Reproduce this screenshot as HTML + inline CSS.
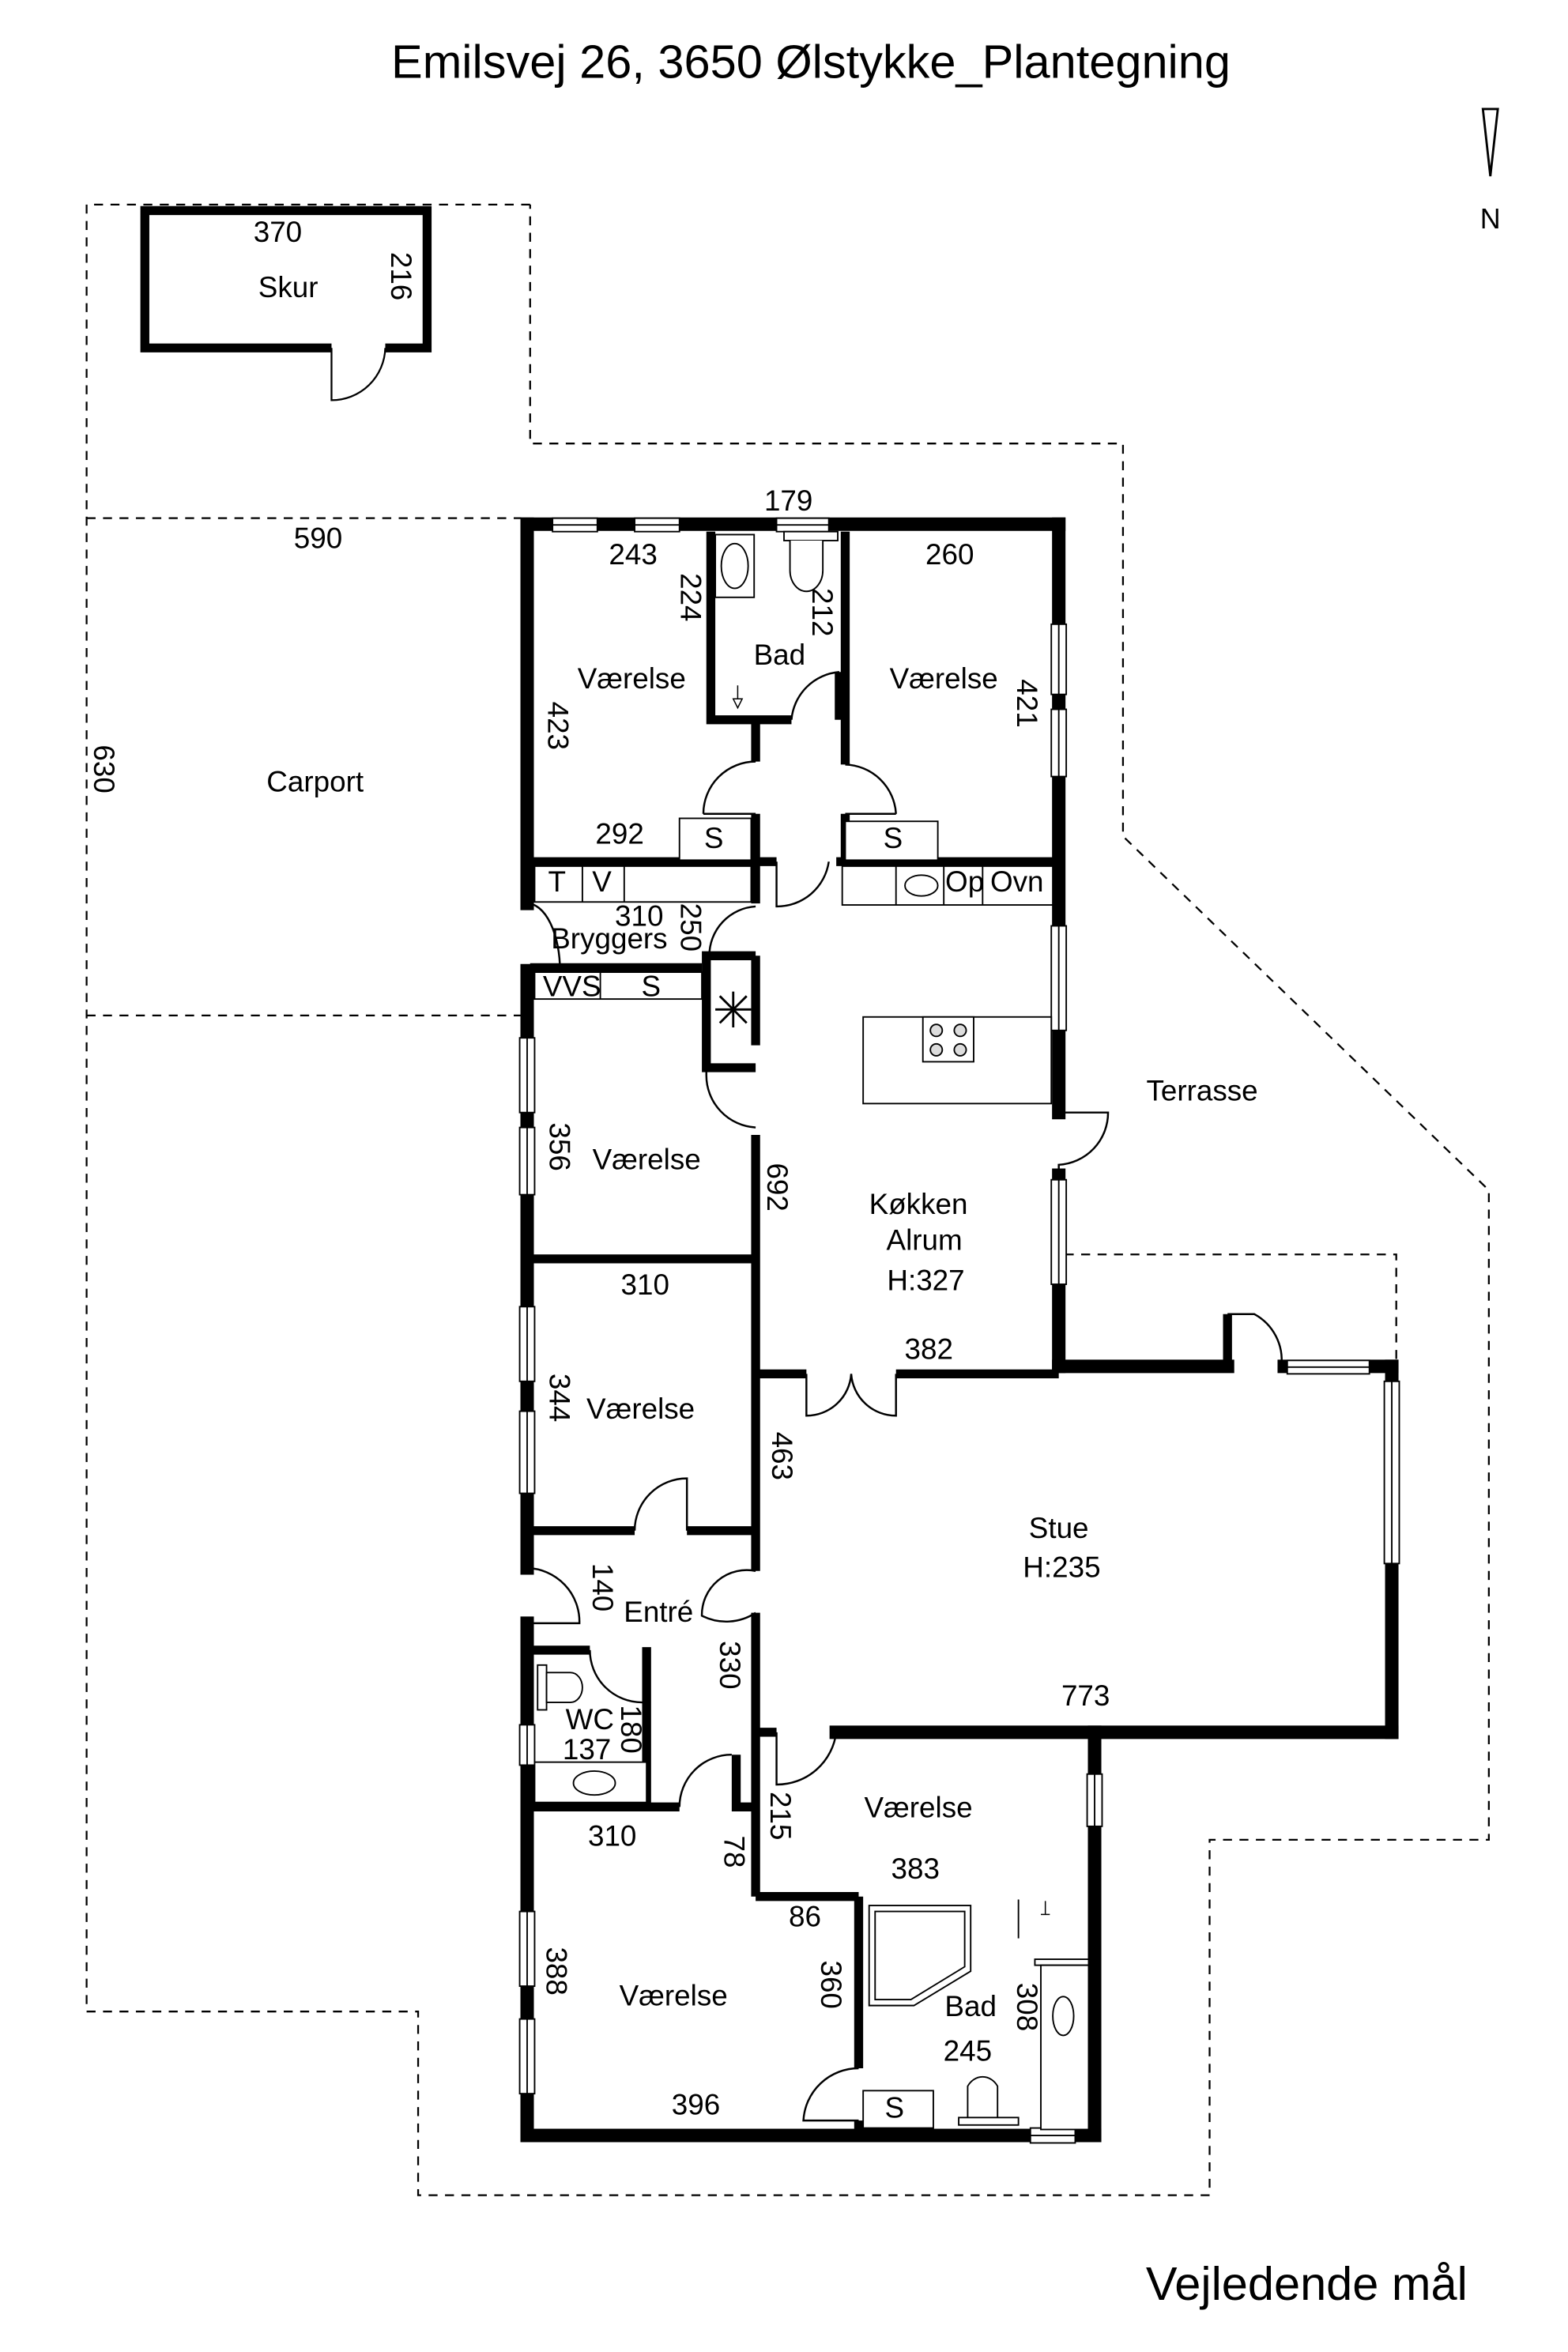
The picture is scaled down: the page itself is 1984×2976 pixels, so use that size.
<!DOCTYPE html>
<html><head><meta charset="utf-8"><style>
html,body{margin:0;padding:0;background:#fff}
svg{display:block}
text{font-family:"Liberation Sans",sans-serif;fill:#000}
</style></head><body>
<svg width="1984" height="2976" viewBox="0 0 1050 1575" xmlns="http://www.w3.org/2000/svg">
<rect width="1050" height="1575" fill="#fff"/>
<text x="543" y="52" font-size="31.5" text-anchor="middle">Emilsvej 26, 3650 Ølstykke_Plantegning</text>
<text x="875" y="1540" font-size="31.5" text-anchor="middle">Vejledende mål</text>
<!-- north -->
<polygon points="993,73 1003,73 998,118" fill="#fff" stroke="#000" stroke-width="1.5"/>
<text x="998" y="153" font-size="19" text-anchor="middle">N</text>
<!-- dashed -->
<g fill="none" stroke="#000" stroke-width="1.2" stroke-dasharray="6,5">
<polyline points="355,137 58,137 58,1347 280,1347 280,1470 810,1470 810,1232 997,1232 997,797 752,560 752,297 355,297 355,137"/>
<line x1="58" y1="347" x2="349" y2="347"/>
<line x1="58" y1="680" x2="349" y2="680"/>
<polyline points="713,840 935,840 935,910"/>
</g>
<!-- shed -->
<g fill="none" stroke="#000" stroke-width="6">
<polyline points="222,233 97,233 97,141 286,141 286,233 258,233"/>
</g>
<path d="M222,233 L222,268 A36,36 0 0 0 258,233" fill="none" stroke="#000" stroke-width="1.2"/>
<text x="186" y="162" font-size="19.5" text-anchor="middle">370</text>
<text x="193" y="199" font-size="19.5" text-anchor="middle">Skur</text>
<text x="262" y="185" font-size="19.5" text-anchor="middle" transform="rotate(90 262 185)">216</text>
<text x="213" y="367" font-size="19.5" text-anchor="middle">590</text>
<text x="211" y="530" font-size="19.5" text-anchor="middle">Carport</text>
<text x="63" y="515" font-size="19.5" text-anchor="middle" transform="rotate(90 63 515)">630</text>
<text x="805" y="737" font-size="19.5" text-anchor="middle">Terrasse</text>

<!-- outer walls -->
<g stroke="#000" stroke-width="9" fill="none" stroke-linecap="square">
<line x1="353" y1="351" x2="709" y2="351"/>
<line x1="353" y1="351" x2="353" y2="605"/>
<line x1="353" y1="650" x2="353" y2="1050"/>
<line x1="353" y1="1087" x2="353" y2="1430"/>
<line x1="353" y1="1430" x2="733" y2="1430"/>
<line x1="733" y1="1160" x2="733" y2="1430"/>
<line x1="709" y1="351" x2="709" y2="745"/>
<line x1="709" y1="787" x2="709" y2="915"/>
<line x1="709" y1="915" x2="822" y2="915"/>
<line x1="860" y1="915" x2="932" y2="915"/>
<line x1="932" y1="915" x2="932" y2="1160"/>
<line x1="560" y1="1160" x2="932" y2="1160"/>
</g>
<!-- windows -->
<g fill="#fff" stroke="#000" stroke-width="1">
<rect x="370" y="347" width="30" height="9"/><rect x="425" y="347" width="30" height="9"/><rect x="520" y="347" width="35" height="9"/>
<rect x="704" y="418" width="10" height="47"/><rect x="704" y="475" width="10" height="45"/><rect x="704" y="620" width="10" height="70"/><rect x="704" y="790" width="10" height="70"/>
<rect x="348" y="695" width="10" height="50"/><rect x="348" y="755" width="10" height="45"/><rect x="348" y="875" width="10" height="50"/><rect x="348" y="945" width="10" height="55"/>
<rect x="348" y="1155" width="10" height="27"/><rect x="348" y="1280" width="10" height="50"/><rect x="348" y="1352" width="10" height="50"/>
<rect x="862" y="911" width="55" height="9"/><rect x="927" y="925" width="10" height="122"/>
<rect x="728" y="1188" width="10" height="35"/><rect x="690" y="1425" width="30" height="10"/>
</g>
<g stroke="#000" stroke-width="1">
<line x1="370" y1="351.5" x2="400" y2="351.5"/><line x1="425" y1="351.5" x2="455" y2="351.5"/><line x1="520" y1="351.5" x2="555" y2="351.5"/>
<line x1="709" y1="418" x2="709" y2="465"/><line x1="709" y1="475" x2="709" y2="520"/><line x1="709" y1="620" x2="709" y2="690"/><line x1="709" y1="790" x2="709" y2="860"/>
<line x1="353" y1="695" x2="353" y2="745"/><line x1="353" y1="755" x2="353" y2="800"/><line x1="353" y1="875" x2="353" y2="925"/><line x1="353" y1="945" x2="353" y2="1000"/>
<line x1="353" y1="1155" x2="353" y2="1182"/><line x1="353" y1="1280" x2="353" y2="1330"/><line x1="353" y1="1352" x2="353" y2="1402"/>
<line x1="862" y1="915.5" x2="917" y2="915.5"/><line x1="932" y1="925" x2="932" y2="1047"/><line x1="733" y1="1188" x2="733" y2="1223"/><line x1="690" y1="1430" x2="720" y2="1430"/>
</g>
<!-- interior walls -->
<g stroke="#000" stroke-width="6" fill="none">
<polyline points="476,356 476,482 530,482"/>
<line x1="506" y1="482" x2="506" y2="510"/>
<line x1="562" y1="450" x2="562" y2="482"/>
<line x1="566" y1="356" x2="566" y2="512"/>
<line x1="566" y1="545" x2="566" y2="577"/>
<line x1="506" y1="545" x2="506" y2="605"/>
<line x1="355" y1="577" x2="520" y2="577"/>
<line x1="560" y1="577" x2="709" y2="577"/>
<line x1="355" y1="648" x2="470" y2="648"/>
<polyline points="506,640 473,640 473,715 506,715"/>
<line x1="506" y1="640" x2="506" y2="700"/>
<line x1="506" y1="760" x2="506" y2="1052"/>
<line x1="355" y1="843" x2="506" y2="843"/>
<line x1="355" y1="1025" x2="425" y2="1025"/>
<line x1="460" y1="1025" x2="506" y2="1025"/>
<line x1="506" y1="1080" x2="506" y2="1270"/>
<line x1="506" y1="920" x2="540" y2="920"/>
<line x1="600" y1="920" x2="709" y2="920"/>
<line x1="355" y1="1105" x2="395" y2="1105"/>
<line x1="433" y1="1103" x2="433" y2="1210"/>
<line x1="355" y1="1210" x2="455" y2="1210"/>
<polyline points="493,1175 493,1210 506,1210"/>
<line x1="506" y1="1160" x2="520" y2="1160"/>
<line x1="506" y1="1270" x2="575" y2="1270"/>
<line x1="575" y1="1270" x2="575" y2="1385"/>
<line x1="575" y1="1420" x2="575" y2="1430"/>
<line x1="822" y1="880" x2="822" y2="915"/>
</g>
<!-- doors -->
<g fill="none" stroke="#000" stroke-width="1.3">
<path d="M530,482 A35,35 0 0 1 562,450"/>
<path d="M471,545 A35,35 0 0 1 506,510 M471,545 L506,545"/>
<path d="M600,545 A35,35 0 0 0 566,512 M600,545 L566,545"/>
<path d="M520,577 L520,607 A35,35 0 0 0 555,577"/>
<path d="M353,605 A22,45 0 0 1 375,650"/>
<path d="M475,640 A33,33 0 0 1 506,607"/>
<path d="M473,715 L473,720 A35,35 0 0 0 506,755"/>
<path d="M709,787 L709,780 A35,35 0 0 0 742,745 L709,745"/>
<path d="M425,1025 A35,35 0 0 1 460,990 L460,1025"/>
<path d="M353,1050 A36,36 0 0 1 388,1087 L353,1087"/>
<path d="M506,1052 A30,30 0 0 0 470,1082 A36,36 0 0 0 506,1080"/>
<path d="M395,1105 A35,35 0 0 0 430,1140"/>
<path d="M455,1210 A35,35 0 0 1 490,1175"/>
<path d="M540,920 L540,948 A30,30 0 0 0 570,920 M600,920 L600,948 A30,30 0 0 1 570,920"/>
<path d="M520,1160 L520,1195 A40,40 0 0 0 560,1160"/>
<path d="M822,880 L840,880 A35,35 0 0 1 858,915"/>
<path d="M575,1385 A37,37 0 0 0 538,1420 L575,1420"/>
</g>
<!-- fixtures -->
<g fill="#fff" stroke="#000" stroke-width="1">
<rect x="455" y="548" width="48" height="28"/>
<rect x="566" y="550" width="62" height="26"/>
<rect x="358" y="580" width="145" height="24"/><line x1="390" y1="580" x2="390" y2="604"/><line x1="418" y1="580" x2="418" y2="604"/>
<rect x="564" y="580" width="141" height="26"/><line x1="600" y1="580" x2="600" y2="606"/><line x1="632" y1="580" x2="632" y2="606"/><line x1="658" y1="580" x2="658" y2="606"/>
<ellipse cx="617" cy="593" rx="11" ry="7"/>
<rect x="358" y="651" width="112" height="18"/><line x1="402" y1="651" x2="402" y2="669"/>
<rect x="578" y="681" width="126" height="58"/><rect x="618" y="681" width="34" height="30"/>
<circle cx="627" cy="690" r="4" fill="#ddd"/><circle cx="643" cy="690" r="4" fill="#ddd"/><circle cx="627" cy="703" r="4" fill="#ddd"/><circle cx="643" cy="703" r="4" fill="#ddd"/>
<rect x="479" y="358" width="26" height="42"/><ellipse cx="492" cy="379" rx="9" ry="15"/>
<rect x="525" y="356" width="36" height="6"/><path d="M529,362 L529,382 A11,14 0 0 0 551,382 L551,362"/>
<rect x="358" y="1180" width="75" height="27"/><ellipse cx="398" cy="1194" rx="14" ry="8"/>
<rect x="360" y="1115" width="6" height="30"/><path d="M366,1120 L382,1120 A8,10 0 0 1 382,1140 L366,1140 Z"/>
<path d="M582,1276 L650,1276 L650,1320 L612,1343 L582,1343 Z"/><path d="M586,1280 L646,1280 L646,1317 L610,1339 L586,1339 Z"/>
<rect x="578" y="1400" width="47" height="25"/>
<rect x="693" y="1312" width="36" height="4"/><rect x="697" y="1316" width="32" height="110"/><ellipse cx="712" cy="1350" rx="7" ry="13"/>
<path d="M648,1420 L648,1397 A12,14 0 0 1 668,1397 L668,1420"/><rect x="642" y="1418" width="40" height="5"/>
</g>
<path d="M494,459 L494,468 M491,468 L497,468 L494,474 Z" stroke="#000" fill="none" stroke-width="0.8"/>
<path d="M700,1273 L700,1282 M697,1282 L703,1282" stroke="#000" fill="none" stroke-width="0.8"/>
<line x1="682" y1="1272" x2="682" y2="1298" stroke="#000" stroke-width="1"/>
<g stroke="#000" stroke-width="1.5"><line x1="491" y1="664" x2="491" y2="688"/><line x1="479" y1="676" x2="503" y2="676"/><line x1="482" y1="667" x2="500" y2="685"/><line x1="500" y1="667" x2="482" y2="685"/></g>
<!-- labels -->
<g font-size="19.5" text-anchor="middle">
<text x="528" y="342">179</text>
<text x="424" y="378">243</text>
<text x="636" y="378">260</text>
<text x="522" y="445">Bad</text>
<text x="423" y="461">Værelse</text>
<text x="632" y="461">Værelse</text>
<text x="415" y="565">292</text>
<text x="478" y="568">S</text>
<text x="598" y="568">S</text>
<text x="373" y="597">T</text>
<text x="403" y="597">V</text>
<text x="646" y="597">Op</text>
<text x="681" y="597">Ovn</text>
<text x="428" y="620">310</text>
<text x="408" y="635">Bryggers</text>
<text x="383" y="667">VVS</text>
<text x="436" y="667">S</text>
<text x="433" y="783">Værelse</text>
<text x="615" y="813">Køkken</text>
<text x="619" y="837">Alrum</text>
<text x="620" y="864">H:327</text>
<text x="432" y="867">310</text>
<text x="622" y="910">382</text>
<text x="429" y="950">Værelse</text>
<text x="709" y="1030">Stue</text>
<text x="711" y="1056">H:235</text>
<text x="441" y="1086">Entré</text>
<text x="727" y="1142">773</text>
<text x="395" y="1158">WC</text>
<text x="393" y="1178">137</text>
<text x="615" y="1217">Værelse</text>
<text x="410" y="1236">310</text>
<text x="613" y="1258">383</text>
<text x="539" y="1290">86</text>
<text x="451" y="1343">Værelse</text>
<text x="650" y="1350">Bad</text>
<text x="648" y="1380">245</text>
<text x="466" y="1416">396</text>
<text x="599" y="1418">S</text>
</g>
<g font-size="19.5" text-anchor="middle">
<text transform="translate(456,400) rotate(90)">224</text>
<text transform="translate(544,410) rotate(90)">212</text>
<text transform="translate(367,486) rotate(90)">423</text>
<text transform="translate(681,471) rotate(90)">421</text>
<text transform="translate(456,621) rotate(90)">250</text>
<text transform="translate(368,768) rotate(90)">356</text>
<text transform="translate(514,795) rotate(90)">692</text>
<text transform="translate(368,936) rotate(90)">344</text>
<text transform="translate(517,975) rotate(90)">463</text>
<text transform="translate(397,1063) rotate(90)">140</text>
<text transform="translate(482,1115) rotate(90)">330</text>
<text transform="translate(416,1158) rotate(90)">180</text>
<text transform="translate(516,1216) rotate(90)">215</text>
<text transform="translate(485,1240) rotate(90)">78</text>
<text transform="translate(366,1320) rotate(90)">388</text>
<text transform="translate(550,1329) rotate(90)">360</text>
<text transform="translate(681,1344) rotate(90)">308</text>
</g>
</svg>
</body></html>
